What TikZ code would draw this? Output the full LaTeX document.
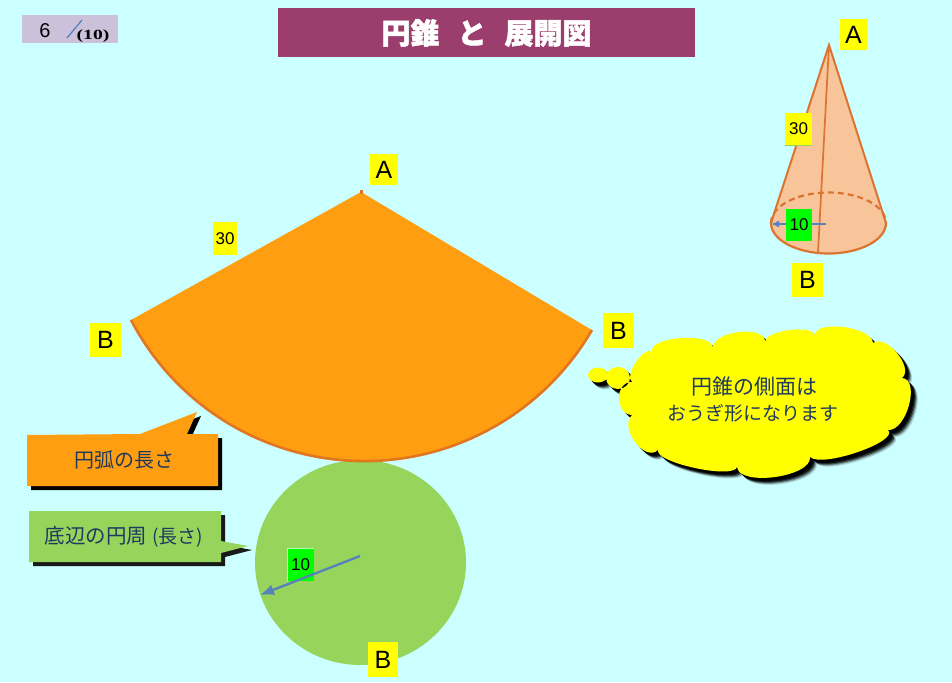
\documentclass[tikz,border=0pt]{standalone}
\usepackage{fontspec}
\setmainfont{Liberation Sans}
\newfontfamily\cjk{Noto Sans CJK JP}[BoldFeatures={FakeBold=1.6}]
\newfontfamily\serifb{Liberation Serif}
\usetikzlibrary{arrows.meta}
\definecolor{bgc}{RGB}{204,255,255}
\definecolor{yel}{RGB}{255,255,0}
\definecolor{lime}{RGB}{0,255,0}
\definecolor{titlec}{RGB}{155,61,109}
\definecolor{scorec}{RGB}{204,193,218}
\definecolor{orangec}{RGB}{255,158,16}
\definecolor{edgec}{RGB}{226,118,31}
\definecolor{greenc}{RGB}{150,212,92}
\definecolor{conec}{RGB}{248,197,155}
\definecolor{conel}{RGB}{219,116,48}
\definecolor{arrowc}{RGB}{85,130,186}
\definecolor{inkc}{RGB}{31,58,95}
\newcommand{\fs}[1]{\fontsize{#1}{#1}\selectfont}
\newcommand{\cloudpath}{
  (632,382) .. controls (624,375.3) and (644,345.3) .. (652,352)
  .. controls (648.7,336.7) and (709.7,331.7) .. (713,347)
  .. controls (714.3,330.3) and (766.3,325.3) .. (765,342)
  .. controls (765,330) and (815,324) .. (815,336)
  .. controls (813.7,319.3) and (871.7,326.3) .. (873,343)
  .. controls (885.7,333) and (914.7,368) .. (902,378)
  .. controls (920.7,379.3) and (906.7,431.3) .. (888,430)
  .. controls (900,441.3) and (822,468.3) .. (810,457)
  .. controls (812,477) and (739,487) .. (737,467)
  .. controls (733.7,479.7) and (654.7,462.7) .. (658,450)
  .. controls (644.7,462.7) and (618.7,427.7) .. (632,415)
  .. controls (614.7,414.3) and (614.7,381.3) .. (632,382) -- cycle
  (598,375) ellipse[x radius=10pt,y radius=7.5pt]
  (618,378) ellipse[x radius=12pt,y radius=11pt]
}
\tikzset{
  x=1pt,y=-1pt,
  lab/.style={fill=yel,text=black,inner sep=0pt,minimum width=#1,font=\fs{25}},
  lab/.default=30pt,
  smalllab/.style={fill=yel,text=black,inner sep=0pt,font=\fs{17}},
  greenlab/.style={fill=lime,text=black,inner sep=0pt,font=\fs{17}},
  calltext/.style={text=inkc,inner sep=0pt,font=\cjk\fs{#1}},
  arrowline/.style={draw=arrowc,line width=2.3pt,-{Latex[length=14pt,width=11pt]}},
}
\begin{document}
\begin{tikzpicture}
\useasboundingbox (0,0) rectangle (952,682);
\fill[bgc] (0,0) rectangle (952,682);

% score box
\fill[scorec] (22,15) rectangle (118,43);
\node[inner sep=0pt,font=\fs{20}] (score) at (45,31) {6};
\draw[arrowc,line width=1.3pt] (67,38) -- (82,20);
\node[inner sep=0pt,font=\serifb\bfseries\fs{14},xscale=1.4,transform shape] (total) at (93,36) {(10)};

% title
\fill[titlec] (278,8) rectangle (695,57);
\node[text=white,inner sep=0pt,font=\cjk\bfseries\fs{29}] (title) at (486.5,33) {円錐\hspace{18pt}と\hspace{18pt}展開図};

% base circle
\fill[greenc] (360.5,562.5) ellipse[x radius=105.5pt,y radius=102.5pt];

% sector
\fill[orangec] (361,192) -- (131,320) arc[start angle=207.68,end angle=329.82,radius=263.4pt] -- cycle;
\draw[edgec,line width=2.6pt] (131,320) arc[start angle=207.68,end angle=329.82,radius=263.4pt];
\draw[edgec,line width=3pt] (361,190) -- (361,194);

% arc callout
\fill[black] (31,439) -- (144,438) -- (201,416) -- (191,438) -- (222,438) -- (222,490) -- (31,490) -- cycle;
\fill[orangec] (27,435) -- (140,434) -- (197,412) -- (187,434) -- (218,434) -- (218,486) -- (27,486) -- cycle;
\node[calltext=20] (arcnote) at (124,460) {円弧の長さ};

% circumference callout
\fill[black!90] (33,515) -- (225,515) -- (225,545) -- (252,550) -- (225,557) -- (225,566) -- (33,566) -- cycle;
\fill[greenc] (29,511) -- (221,511) -- (221,541) -- (248,546) -- (221,553) -- (221,562) -- (29,562) -- cycle;
\node[calltext=20.5] (basenote) at (124,537) {底辺の円周\hspace{5pt}{\fs{19}(長さ)}};

% cloud with soft shadow
\foreach \d/\m in {7/15,6/40,5/70,4/90,3/100}{
  \begin{scope}[shift={(\d pt,-\d pt)}]
    \fill[black!\m!bgc] \cloudpath;
  \end{scope}
}
\fill[yel] \cloudpath;
\node[calltext=21] (cloudline) at (754,387) {円錐の側面は};
\node[calltext=19] (cloudnote) at (753,413) {おうぎ形になります};

% cone
\fill[conec] (829,45) -- (771,223) arc[start angle=180,end angle=360,x radius=57.5pt,y radius=30.5pt] -- cycle;
\draw[conel,line width=2pt] (771,223) -- (829,45) -- (886,223);
\draw[conel,line width=2.2pt] (771,223) arc[start angle=180,end angle=360,x radius=57.5pt,y radius=30.5pt];
\draw[conel,line width=2.2pt,dash pattern=on 6pt off 4pt] (771,223) arc[start angle=180,end angle=0,x radius=57.5pt,y radius=30.5pt];
\draw[conel,line width=1.7pt] (829,45) -- (818,252);

% cone radius arrow and labels
\coordinate (coneC) at (826,224);
\coordinate (coneL) at (771,224);
\draw[arrowline,line width=1.6pt,-{Latex[length=8pt,width=7pt]}] (coneC) -- (coneL);
\node[smalllab,minimum width=27pt,minimum height=32pt] (c30) at (798.5,129) {30};
\draw[draw=greenc,line width=0.8pt] (785,145) -- (812,145);
\node[greenlab,minimum width=26pt,minimum height=32pt] (c10) at (799,225) {10};
\node[lab=27pt,minimum height=31pt] (cA) at (853.5,34.5) {A};
\node[lab=31pt,minimum height=34pt] (cB) at (807.5,280) {B};

% base radius label and arrow
\node[greenlab,minimum width=27pt,minimum height=33pt] (b10) at (300.5,564.5) {10};
\draw[white!70!lime,line width=1pt] (287,581) -- (287,548) -- (314,548);
\coordinate (baseC) at (360,556);
\coordinate (baseE) at (260,595);
\draw[arrowline] (baseC) -- (baseE);

% sector labels
\node[lab=28pt,minimum height=31pt] (sA) at (384,169.5) {A};
\node[smalllab,minimum width=24pt,minimum height=33pt] (s30) at (225,238.5) {30};
\node[lab=31pt,minimum height=34pt] (sBl) at (105.5,340) {B};
\node[lab=31pt,minimum height=35pt] (sBr) at (618.5,330.5) {B};
\node[lab=30pt,minimum height=35pt] (sBb) at (383,659.5) {B};
\end{tikzpicture}
\end{document}
